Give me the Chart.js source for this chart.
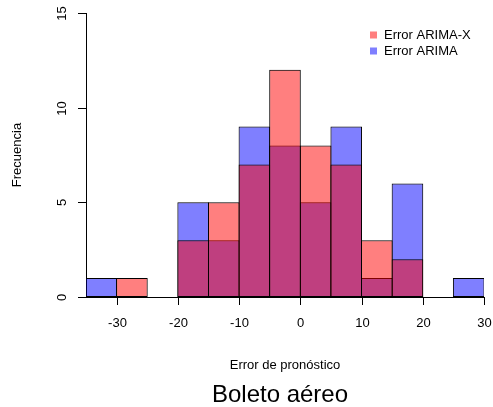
<!DOCTYPE html>
<html>
<head>
<meta charset="utf-8">
<script src="https://cdn.jsdelivr.net/npm/chart.js@4"></script>
<style>
  html, body { margin: 0; padding: 0; background: #fff; }
  #wrap { width: 493px; height: 407px; position: relative; }
</style>
</head>
<body>
<div id="wrap"><canvas id="grafico" width="493" height="407"></canvas></div>
<script>
// bordes de las clases (ancho 5)
const binStarts = [-35, -30, -25, -20, -15, -10, -5, 0, 5, 10, 15, 20, 25];
const binWidth = 5;
const errArimaX = [0, 1, 0, 3, 5, 7, 12, 8, 7, 3, 2, 0, 0];
const errArima  = [1, 0, 0, 5, 3, 9, 8, 5, 9, 1, 6, 0, 1];
const xTicks = [-30, -20, -10, 0, 10, 20, 30];
const yTicks = [0, 5, 10, 15];

const fuente = '"Liberation Sans", Arial, Helvetica, sans-serif';

function puntos(valores) {
  return valores.map((v, i) => ({ x: binStarts[i] + binWidth / 2, y: v }));
}

// ejes, etiquetas y leyenda al estilo de R
const estiloR = {
  id: 'estiloR',
  afterDraw(chart) {
    const ctx = chart.ctx;
    const xs = chart.scales.x;
    const ys = chart.scales.y;
    const area = chart.chartArea;
    ctx.save();
    ctx.strokeStyle = '#000';
    ctx.lineWidth = 1;
    ctx.fillStyle = '#000';
    ctx.font = '13px ' + fuente;
    ctx.textAlign = 'center';
    ctx.textBaseline = 'middle';

    // eje x
    xTicks.forEach(t => {
      const px = Math.round(xs.getPixelForValue(t)) + 0.5;
      ctx.beginPath();
      ctx.moveTo(px, area.bottom);
      ctx.lineTo(px, area.bottom + 8);
      ctx.stroke();
      ctx.fillText(String(t), px, area.bottom + 26);
    });

    // eje y
    yTicks.forEach(t => {
      const py = Math.round(ys.getPixelForValue(t)) + 0.5;
      ctx.beginPath();
      ctx.moveTo(area.left, py);
      ctx.lineTo(area.left - 8, py);
      ctx.stroke();
      ctx.save();
      ctx.translate(area.left - 24, py);
      ctx.rotate(-Math.PI / 2);
      ctx.fillText(String(t), 0, 0);
      ctx.restore();
    });

    // títulos
    ctx.fillText('Error de pronóstico', 285, 365);
    ctx.save();
    ctx.translate(17, 155);
    ctx.rotate(-Math.PI / 2);
    ctx.fillText('Frecuencia', 0, 0);
    ctx.restore();
    ctx.font = '24px ' + fuente;
    ctx.fillText('Boleto aéreo', 280, 395);

    // leyenda
    ctx.font = '13px ' + fuente;
    ctx.textAlign = 'left';
    chart.data.datasets.forEach((ds, i) => {
      const y = 35 + i * 16;
      ctx.fillStyle = '#fff';
      ctx.fillRect(370, y - 3.5, 7, 7);
      ctx.fillStyle = ds.backgroundColor;
      ctx.fillRect(370, y - 3.5, 7, 7);
      ctx.fillStyle = '#000';
      ctx.fillText(ds.label, 384, y);
    });
    ctx.restore();
  }
};

// barras un poco más anchas para que los bordes contiguos se superpongan (como en R)
const anchoBarra = 1 + 1 / 30.6;

new Chart(document.getElementById('grafico'), {
  type: 'bar',
  data: {
    datasets: [
      {
        label: 'Error ARIMA-X',
        data: puntos(errArimaX),
        backgroundColor: 'rgba(255,0,0,0.5)',
        borderColor: '#000',
        borderWidth: 1,
        borderSkipped: false
      },
      {
        label: 'Error ARIMA',
        data: puntos(errArima),
        backgroundColor: 'rgba(0,0,255,0.5)',
        borderColor: '#000',
        borderWidth: 1,
        borderSkipped: false
      }
    ]
  },
  options: {
    responsive: false,
    animation: false,
    devicePixelRatio: 1,
    grouped: false,
    barPercentage: anchoBarra,
    categoryPercentage: 1,
    layout: { padding: { left: 86, right: 9, top: 13, bottom: 110 } },
    plugins: {
      legend: { display: false },
      tooltip: { enabled: false }
    },
    scales: {
      x: {
        type: 'linear',
        min: -35,
        max: 30,
        offset: false,
        ticks: { display: false },
        grid: { display: false, drawTicks: false, offset: false },
        border: { display: true, color: '#000', width: 1 }
      },
      y: {
        min: 0,
        max: 15,
        ticks: { display: false },
        grid: { display: false, drawTicks: false },
        border: { display: true, color: '#000', width: 1 }
      }
    }
  },
  plugins: [estiloR]
});
</script>
</body>
</html>
